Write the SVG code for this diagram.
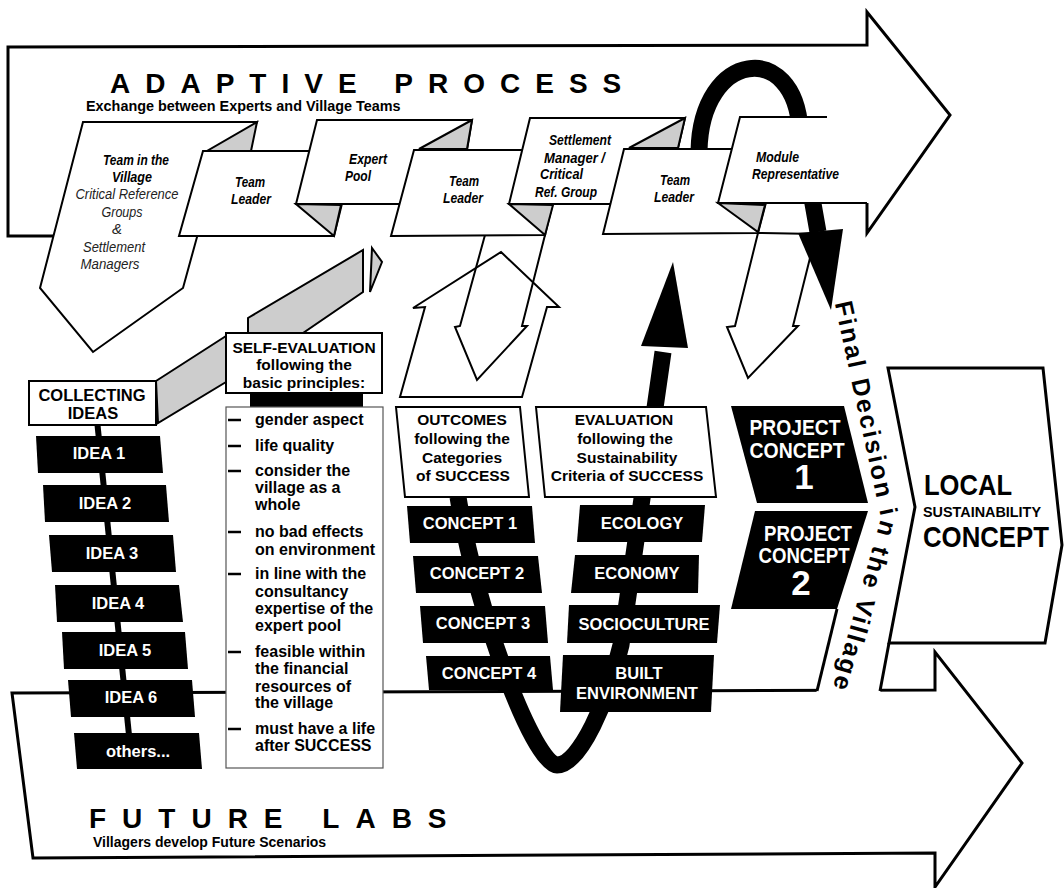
<svg xmlns="http://www.w3.org/2000/svg" width="1064" height="888" viewBox="0 0 1064 888">
<style>
text{font-family:"Liberation Sans",Arial,Helvetica,sans-serif;font-weight:bold;fill:#000}
.c{text-anchor:middle}
.card{fill:#fff;stroke:#000;stroke-width:2;stroke-linejoin:miter}
.fold{fill:#cdcdcd;stroke:#000;stroke-width:2;stroke-linejoin:miter}
.blk{fill:#000}
.box{fill:#fff;stroke:#000;stroke-width:2}
.hollow{fill:none;stroke:#000;stroke-width:2;stroke-linejoin:miter}
.ct{font-size:15px;font-style:italic}
.cr{font-size:15px;font-style:italic;font-weight:normal;fill:#222}
.lab{font-size:16.5px;fill:#fff;text-anchor:middle}
.mid{font-size:15.5px;text-anchor:middle}
.li{font-size:16px}
.pc{font-size:22px;fill:#fff;text-anchor:middle}
.num{font-size:35px;fill:#fff;text-anchor:middle}
.dash{stroke:#000;stroke-width:2.5}
</style>
<rect x="0" y="0" width="1064" height="888" fill="#fff"/>

<g id="adaptive-process">
<polygon points="8,47 867,45 867,12 950,115 867,233 8,236" fill="#fff"/>
<path d="M60 236 L8 236 L8 47 L867 45 L867 12 L950 115 L867 233 L867 203" fill="none" stroke="#000" stroke-width="3"/>
<text x="110" y="93" font-size="28" letter-spacing="15">ADAPTIVE PROCESS</text>
<text x="86" y="111" font-size="14.4">Exchange between Experts and Village Teams</text>
</g>

<g id="future-labs">
<polygon points="12,693 935,690 935,652 1022,763 935,887 935,853 33,858" fill="#fff" stroke="#000" stroke-width="3"/>
<text x="89" y="828" font-size="28" letter-spacing="16">FUTURE LABS</text>
<text x="93" y="847" font-size="14">Villagers develop Future Scenarios</text>
</g>

<g id="connectors">
<polygon class="fold" points="156,381 226,336 226,382 158,423"/>
<polygon class="fold" points="248,333 248,318 363,250 363,292 303,333"/>
<polygon class="fold" points="372,248 382,262 370,292" stroke-width="2.5"/>
<rect x="250" y="392" width="113" height="15" class="blk"/>
<line x1="97" y1="420" x2="130" y2="745" stroke="#000" stroke-width="6"/>
<polygon class="hollow" points="501,252 559,307 547,307 522,397 400,397 425,307 413,308"/>
<polygon class="hollow" points="485,235 460,326 455,327 477,380 527,326 522,326 545,235"/>
<polygon class="hollow" points="758,233 735,326 727,327 748,378 798,326 793,326 816,234"/>
<path d="M458 497 C478 620 535 765 557 765 C580 765 608 700 621 645 L663 352" fill="none" stroke="#000" stroke-width="17"/>
<polygon class="blk" points="673,262 641,346 688,348"/>
<path d="M699 151 C701 50 795 40 800 130 L818 232" fill="none" stroke="#000" stroke-width="17"/>
<polygon class="blk" points="798,233 843,229 831,310"/>
</g>

<g id="team-in-the-village">
<polygon class="card" points="83,122 257,122 197,237 183,288 93,352 40,288"/>
<text class="ct c" x="136" y="165" textLength="66" lengthAdjust="spacingAndGlyphs">Team in the</text>
<text class="ct c" x="132" y="182" textLength="40" lengthAdjust="spacingAndGlyphs">Village</text>
<text class="cr c" x="127" y="199" textLength="103" lengthAdjust="spacingAndGlyphs">Critical Reference</text>
<text class="cr c" x="122" y="217" textLength="41" lengthAdjust="spacingAndGlyphs">Groups</text>
<text class="cr c" x="117" y="234">&amp;</text>
<text class="cr c" x="114" y="252" textLength="62" lengthAdjust="spacingAndGlyphs">Settlement</text>
<text class="cr c" x="110" y="269" textLength="59" lengthAdjust="spacingAndGlyphs">Managers</text>
</g>

<g id="team-leader-1">
<polygon class="card" points="203,151 355,151 334,236 179,236"/>
<polygon class="fold" points="257,122 207,151 251,151"/>
<text class="ct c" x="250" y="187" textLength="30" lengthAdjust="spacingAndGlyphs">Team</text>
<text class="ct c" x="251" y="204" textLength="40" lengthAdjust="spacingAndGlyphs">Leader</text>
</g>

<g id="expert-pool">
<polygon class="card" points="317,120 472,120 458,204 296,204"/>
<polygon class="fold" points="296,204 341,205 334,236"/>
<polygon class="fold" points="472,120 419,149 467,149"/>
<text class="ct c" x="368" y="164" textLength="38" lengthAdjust="spacingAndGlyphs">Expert</text>
<text class="ct c" x="358" y="181" textLength="26" lengthAdjust="spacingAndGlyphs">Pool</text>
</g>

<g id="team-leader-2">
<polygon class="card" points="414,150 566,150 545,235 391,236"/>
<text class="ct c" x="464" y="186" textLength="30" lengthAdjust="spacingAndGlyphs">Team</text>
<text class="ct c" x="463" y="203" textLength="40" lengthAdjust="spacingAndGlyphs">Leader</text>
</g>

<g id="settlement-manager">
<polygon class="card" points="530,118 685,118 665,204 509,204"/>
<polygon class="fold" points="509,204 553,205 545,235"/>
<polygon class="fold" points="685,118 629,148 678,148"/>
<text class="ct" x="549" y="145" textLength="62" lengthAdjust="spacingAndGlyphs">Settlement</text>
<text class="ct" x="544" y="163" textLength="61" lengthAdjust="spacingAndGlyphs">Manager /</text>
<text class="ct" x="540" y="179" textLength="43" lengthAdjust="spacingAndGlyphs">Critical</text>
<text class="ct" x="535" y="197" textLength="62" lengthAdjust="spacingAndGlyphs">Ref. Group</text>
</g>

<g id="team-leader-3">
<polygon class="card" points="624,149 780,149 758,233 603,234"/>
<text class="ct c" x="675" y="185" textLength="30" lengthAdjust="spacingAndGlyphs">Team</text>
<text class="ct c" x="674" y="202" textLength="40" lengthAdjust="spacingAndGlyphs">Leader</text>
</g>

<g id="module-representative">
<polygon points="740,117 867,117 867,203 718,203" fill="#fff"/>
<path d="M827 117 L740 117 L718 203 L867 203" fill="none" stroke="#000" stroke-width="2"/>
<polygon class="fold" points="718,203 765,205 758,232"/>
<text class="ct" x="756" y="162" textLength="43" lengthAdjust="spacingAndGlyphs">Module</text>
<text class="ct" x="752" y="179" textLength="87" lengthAdjust="spacingAndGlyphs">Representative</text>
</g>

<g id="collecting-ideas">
<rect class="box" x="29" y="381" width="127" height="44"/>
<text class="c" x="92" y="401" font-size="16.5">COLLECTING</text>
<text class="c" x="93" y="419" font-size="16.5">IDEAS</text>
</g>

<g id="self-evaluation">
<rect class="box" x="226" y="333" width="156" height="60"/>
<text class="mid" x="304" y="353" font-size="15">SELF-EVALUATION</text>
<text class="mid" x="304" y="370">following the</text>
<text class="mid" x="304" y="388">basic principles:</text>
</g>

<g id="principles">
<rect x="226" y="407" width="157" height="361" fill="#fff" stroke="#555" stroke-width="1.2"/>
<line class="dash" x1="228" y1="420" x2="241" y2="420"/>
<line class="dash" x1="228" y1="446" x2="241" y2="446"/>
<line class="dash" x1="228" y1="471" x2="241" y2="471"/>
<line class="dash" x1="228" y1="532" x2="241" y2="532"/>
<line class="dash" x1="228" y1="574" x2="241" y2="574"/>
<line class="dash" x1="228" y1="652" x2="241" y2="652"/>
<line class="dash" x1="228" y1="729" x2="241" y2="729"/>
<text class="li" x="255" y="425">gender aspect</text>
<text class="li" x="255" y="451">life quality</text>
<text class="li" x="255" y="476">consider the</text>
<text class="li" x="255" y="493">village as a</text>
<text class="li" x="255" y="510">whole</text>
<text class="li" x="255" y="537">no bad effects</text>
<text class="li" x="255" y="555">on environment</text>
<text class="li" x="255" y="579">in line with the</text>
<text class="li" x="255" y="597">consultancy</text>
<text class="li" x="255" y="614">expertise of the</text>
<text class="li" x="255" y="631">expert pool</text>
<text class="li" x="255" y="657">feasible within</text>
<text class="li" x="255" y="674">the financial</text>
<text class="li" x="255" y="692">resources of</text>
<text class="li" x="255" y="708">the village</text>
<text class="li" x="255" y="734">must have a life</text>
<text class="li" x="255" y="751">after SUCCESS</text>
</g>

<g id="idea-1"><polygon class="blk" points="36,436 160,436 163,473 38,473"/><text class="lab" x="99" y="459">IDEA 1</text></g>
<g id="idea-2"><polygon class="blk" points="43,485 166,485 169,522 45,522"/><text class="lab" x="105" y="509">IDEA 2</text></g>
<g id="idea-3"><polygon class="blk" points="49,535 173,535 176,572 52,572"/><text class="lab" x="112" y="559">IDEA 3</text></g>
<g id="idea-4"><polygon class="blk" points="55,585 179,585 183,622 57,622"/><text class="lab" x="118" y="609">IDEA 4</text></g>
<g id="idea-5"><polygon class="blk" points="62,632 185,632 188,669 64,669"/><text class="lab" x="125" y="656">IDEA 5</text></g>
<g id="idea-6"><polygon class="blk" points="68,680 192,680 195,717 71,717"/><text class="lab" x="131" y="703">IDEA 6</text></g>
<g id="others"><polygon class="blk" points="74,733 199,733 202,769 77,769"/><text class="lab" x="138" y="757">others...</text></g>

<g id="outcomes">
<polygon class="box" points="396,407 520,407 529,497 405,497"/>
<text class="mid" x="462" y="425">OUTCOMES</text>
<text class="mid" x="462" y="444">following the</text>
<text class="mid" x="462" y="463">Categories</text>
<text class="mid" x="463" y="481">of SUCCESS</text>
</g>

<g id="evaluation">
<polygon class="box" points="536,407 706,407 716,497 545,497"/>
<text class="mid" x="624" y="425">EVALUATION</text>
<text class="mid" x="625" y="444">following the</text>
<text class="mid" x="627" y="463">Sustainability</text>
<text class="mid" x="627" y="481">Criteria of SUCCESS</text>
</g>

<g id="concept-1"><polygon class="blk" points="407,506 532,506 535,543 410,543"/><text class="lab" x="470" y="529">CONCEPT 1</text></g>
<g id="concept-2"><polygon class="blk" points="413,556 538,556 542,593 416,593"/><text class="lab" x="477" y="579">CONCEPT 2</text></g>
<g id="concept-3"><polygon class="blk" points="420,606 545,606 548,643 423,643"/><text class="lab" x="483" y="629">CONCEPT 3</text></g>
<g id="concept-4"><polygon class="blk" points="426,656 550,656 553,690 429,690"/><text class="lab" x="489" y="679">CONCEPT 4</text></g>

<g id="ecology"><polygon class="blk" points="580,505 705,505 702,542 577,542"/><text class="lab" x="642" y="529">ECOLOGY</text></g>
<g id="economy"><polygon class="blk" points="575,555 699,555 698,593 571,593"/><text class="lab" x="637" y="579">ECONOMY</text></g>
<g id="socioculture"><polygon class="blk" points="569,605 720,605 717,643 567,643"/><text class="lab" x="644" y="630">SOCIOCULTURE</text></g>
<g id="built-environment"><polygon class="blk" points="563,655 714,655 711,712 560,712"/><text class="lab" x="639" y="679">BUILT</text><text class="lab" x="637" y="699">ENVIRONMENT</text></g>

<g id="final-decision">
<polygon points="829,640 888,640 880,694 816,694" fill="#fff"/>
<path id="fdpath" d="M834 300 L881 518 L830 698" fill="none"/>
<text font-size="25"><textPath href="#fdpath" startOffset="3" textLength="396" lengthAdjust="spacing">Final Decision in the Village</textPath></text>
</g>

<g id="project-concept-1">
<polygon class="blk" points="731,406 844,406 868,503 757,503"/>
<text class="pc" x="795" y="435" textLength="91" lengthAdjust="spacingAndGlyphs">PROJECT</text>
<text class="pc" x="797" y="458" textLength="95" lengthAdjust="spacingAndGlyphs">CONCEPT</text>
<text class="num" x="804" y="489">1</text>
</g>

<g id="project-concept-2">
<polygon class="blk" points="755,511 868,511 837,609 731,609"/>
<line x1="837" y1="609" x2="817" y2="691" stroke="#000" stroke-width="3"/>
<text class="pc" x="808" y="541" textLength="88" lengthAdjust="spacingAndGlyphs">PROJECT</text>
<text class="pc" x="804" y="563" textLength="91" lengthAdjust="spacingAndGlyphs">CONCEPT</text>
<text class="num" x="801" y="595">2</text>
</g>

<g id="local-sustainability-concept">
<polygon points="888,368 1043,368 1062,545 1045,643 889,643 915,507" fill="#fff" stroke="#000" stroke-width="3"/>
<line x1="889" y1="643" x2="880" y2="691" stroke="#000" stroke-width="3"/>
<text x="924" y="495" font-size="30" textLength="88" lengthAdjust="spacingAndGlyphs">LOCAL</text>
<text x="923" y="517" font-size="15.5" textLength="118" lengthAdjust="spacingAndGlyphs">SUSTAINABILITY</text>
<text x="923" y="547" font-size="30" textLength="126" lengthAdjust="spacingAndGlyphs">CONCEPT</text>
</g>
</svg>
